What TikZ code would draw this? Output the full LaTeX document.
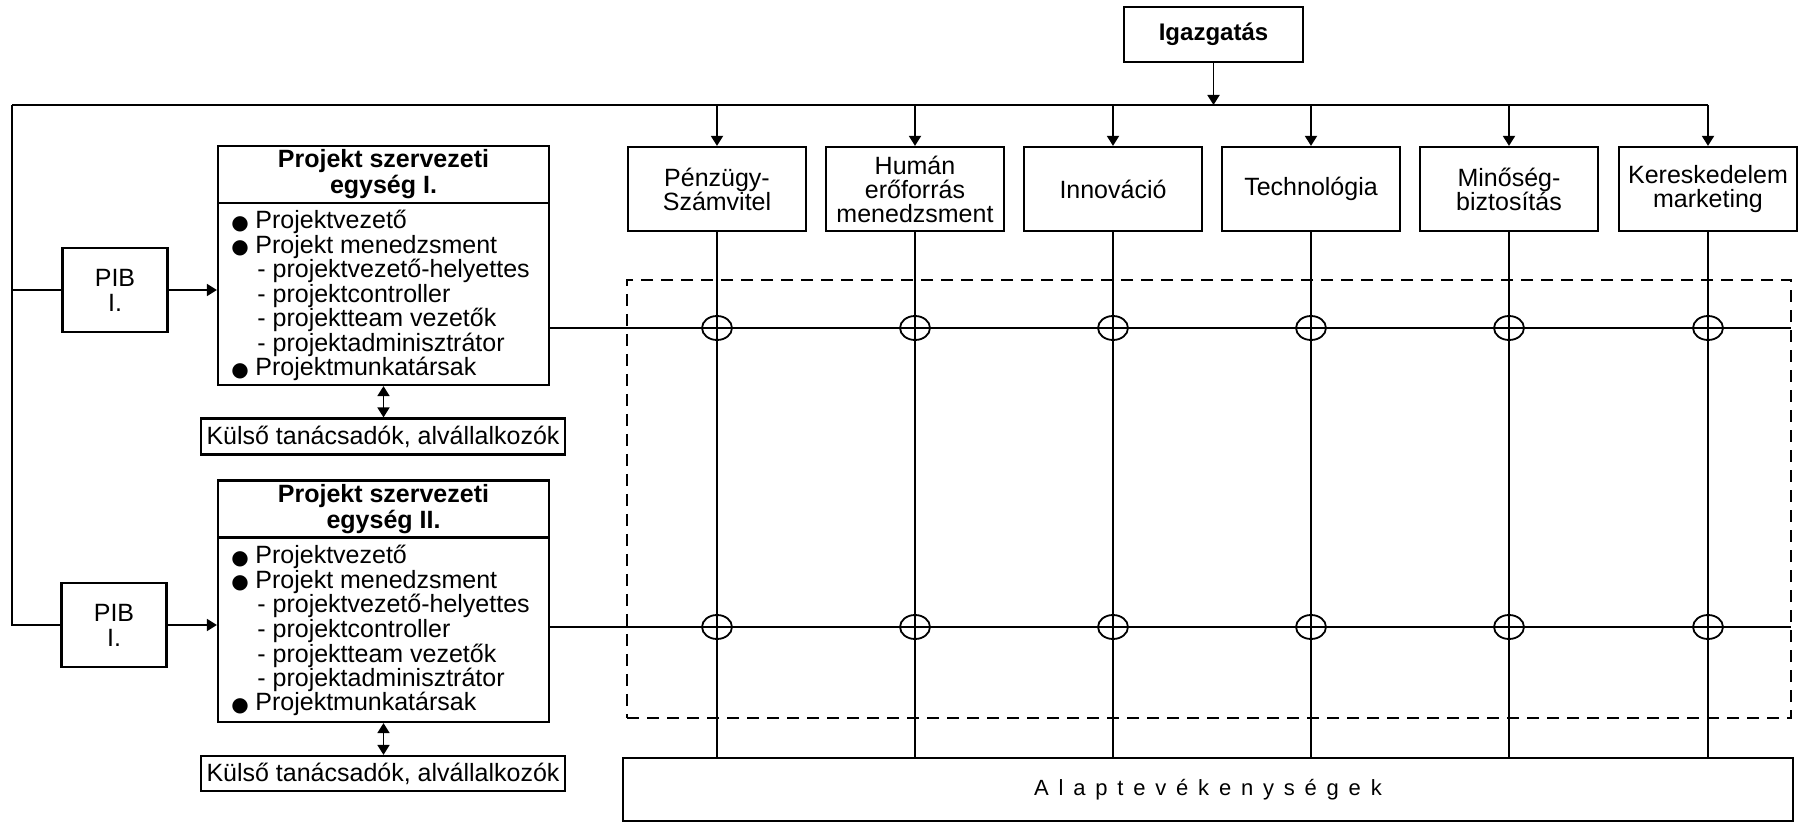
\documentclass[tikz,border=0pt]{standalone}
\usepackage{fontspec}
\setmainfont{Liberation Sans}
\newfontfamily\symfont{DejaVu Sans}
\usetikzlibrary{arrows.meta}

% filled round bullet used in the member lists
\newcommand\bulmark{\makebox[12pt][l]{\raisebox{-0.2pt}{\symfont\fontsize{10pt}{10pt}\selectfont ●}}}
% letter spacing for the bottom bar
\newcommand\lsp{\kern4.9pt}

% the member list of one project unit: #1 name prefix, #2 baseline of first line
\newcommand\projlist[2]{%
  \foreach \txt/\kind [count=\i from 0] in {Projektvezető/b,Projekt menedzsment/b,projektvezető-helyettes/s,projektcontroller/s,projektteam vezetők/s,projektadminisztrátor/s,Projektmunkatársak/b}{%
    \node[listline] (#1-\i) at (231,{#2+24.5*\i}) {\if b\kind\bulmark\txt\else\hspace*{13pt}- \txt\fi};
  }%
}

\begin{document}
\begin{tikzpicture}[x=0.5pt,y=-0.5pt,
  box/.style={draw,line width=1.1pt,inner sep=0pt,align=center,
    font=\fontsize{12.5pt}{12pt}\selectfont},
  dept/.style={box,minimum width=89pt,minimum height=42pt},
  titlebox/.style={box,minimum width=165.5pt,minimum height=28.5pt,
    font=\bfseries\fontsize{12.5pt}{13pt}\selectfont},
  bodybox/.style={box,minimum width=165.5pt},
  pibbox/.style={box,minimum width=52.5pt,minimum height=42pt,
    font=\fontsize{12.5pt}{12.5pt}\selectfont},
  extbox/.style={box,minimum width=182pt,minimum height=18pt},
  listline/.style={anchor=base west,inner sep=0pt,font=\fontsize{12.5pt}{12.5pt}\selectfont},
  conn/.style={line width=0.9pt},
  arr/.style={conn,-{Triangle[length=5pt,width=6pt]}},
  darr/.style={conn,{Triangle[length=5pt,width=6pt]}-{Triangle[length=5pt,width=6pt]}},
  matrixframe/.style={draw,dashed,line width=1pt,dash pattern=on 6pt off 4pt,
    minimum width=582pt,minimum height=219pt,inner sep=0pt},
  cross/.style={line width=0.9pt}
]
\useasboundingbox (0,0) rectangle (1806,823);

% management on top
\node[box,minimum width=89.5pt,minimum height=27.5pt,
  font=\bfseries\fontsize{12pt}{12pt}\selectfont] (igaz) at (1213.5,34.5) {Igazgatás};

% functional departments
\node[dept] (d1) at (717,189)  {Pénzügy-\\Számvitel};
\node[dept] (d2) at (915,189)  {Humán\\erőforrás\\menedzsment};
\node[dept] (d3) at (1113,189) {Innováció};
\node[dept] (d4) at (1311,189) {Technológia};
\node[dept] (d5) at (1509,189) {Minőség-\\biztosítás};
\node[dept] (d6) at (1708,189) {Kereskedelem\\marketing};

% dashed frame of the project matrix
\node[matrixframe] (mx) at (1209,499) {};

% core activities bar
\node[box,minimum width=585pt,minimum height=31.5pt,
  font=\fontsize{11pt}{11pt}\selectfont] (alap) at (1208,789.5)
  {A\lsp l\lsp a\lsp p\lsp t\lsp e\lsp v\lsp é\lsp k\lsp e\lsp n\lsp y\lsp s\lsp é\lsp g\lsp e\lsp k};

% project unit I
\node[titlebox] (t1) at (383.5,174.5) {Projekt szervezeti\\egység I.};
\node[bodybox,minimum height=91pt] (b1) at (383.5,294) {};
\projlist{l1}{229}
\node[pibbox] (pib1) at (115,290) {PIB\\I.};
\node[extbox] (k1) at (383,436.5) {Külső tanácsadók, alvállalkozók};

% project unit II
\node[titlebox] (t2) at (383.5,509) {Projekt szervezeti\\egység II.};
\node[bodybox,minimum height=92.5pt] (b2) at (383.5,629.5) {};
\projlist{l2}{564}
\node[pibbox] (pib2) at (114,625) {PIB\\I.};
\node[extbox,minimum height=17.5pt] (k2) at (383,773.5) {Külső tanácsadók, alvállalkozók};

% distribution bus from the management
\coordinate (busL) at (12,105);
\draw[conn] (busL) -- (busL -| d6.north);
\draw[arr] (igaz.south) -- (igaz.south |- busL);
\foreach \k in {1,...,6}{
  \draw[arr] (busL -| d\k.north) -- (d\k.north);
}

% left feed to the project steering boards
\draw[conn] (busL) |- (pib2.west);
\draw[conn] (busL |- pib1.west) -- (pib1.west);
\draw[arr] (pib1.east) -- (pib1.east -| b1.west);
\draw[arr] (pib2.east) -- (pib2.east -| b2.west);

% external partners
\draw[darr] (b1.south) -- (b1.south |- k1.north);
\draw[darr] (b2.south) -- (b2.south |- k2.north);

% project rows across the functions
\coordinate (r1) at (1791,328);
\coordinate (r2) at (1791,627);
\draw[conn] (b1.east |- r1) -- (r1);
\draw[conn] (b2.east |- r2) -- (r2);

% function columns down to the core activities, with crossing marks
\foreach \k in {1,...,6}{
  \draw[conn] (d\k.south) -- (d\k.south |- alap.north);
  \draw[cross] (d\k |- r1) ellipse [x radius=7.5pt,y radius=6pt];
  \draw[cross] (d\k |- r2) ellipse [x radius=7.5pt,y radius=6pt];
}
\end{tikzpicture}
\end{document}
